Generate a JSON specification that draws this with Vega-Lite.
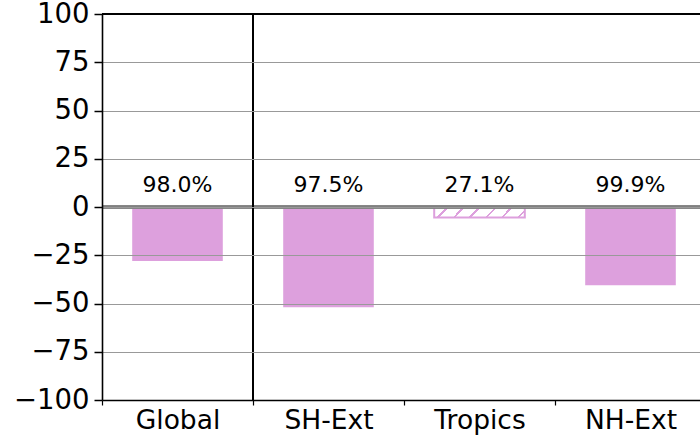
{
  "$schema": "https://vega.github.io/schema/vega-lite/v6.json",
  "width": 598,
  "height": 386,
  "autosize": {"type": "none"},
  "padding": {"left": 102, "top": 14, "right": 0, "bottom": 35},
  "title": {"text": "Change in precipitation (pr) by region (% per K, yearly)", "fontSize": 26, "font": "DejaVu Sans", "fontWeight": "normal", "color": "black", "offset": 9, "anchor": "middle", "dx": 3},
  "config": {"view": {"stroke": null}, "font": "DejaVu Sans"},
  "data": {"values": [
    {"region": "Global", "change": -28, "agreement": 0.980},
    {"region": "SH-Ext", "change": -52, "agreement": 0.975},
    {"region": "Tropics", "change": -5.4, "agreement": 0.271},
    {"region": "NH-Ext", "change": -40.5, "agreement": 0.999}
  ]},
  "encoding": {
    "x": {"field": "region", "type": "nominal", "sort": ["Global", "SH-Ext", "Tropics", "NH-Ext"],
      "scale": {"range": [0, 604], "paddingInner": 0, "paddingOuter": 0},
      "axis": {"title": null, "labelAngle": 0, "labelFontSize": 26.5, "labelColor": "black", "tickBand": "extent", "tickSize": 5, "tickColor": "black", "tickWidth": 1.2, "domainColor": "black", "domainWidth": 1.6, "labelPadding": 2, "grid": false}}
  },
  "layer": [
    {
      "transform": [{"filter": "datum.agreement >= 0.5"}],
      "mark": {"type": "bar", "color": "#dda0dd", "width": {"band": 0.6}},
      "encoding": {
        "y": {"field": "change", "type": "quantitative",
          "scale": {"domain": [-100, 100], "nice": false},
          "axis": {"title": null, "values": [-100, -75, -50, -25, 0, 25, 50, 75, 100], "labelFontSize": 27.5, "labelColor": "black", "tickSize": 8, "tickColor": "black", "tickWidth": 1.5, "labelPadding": 5, "domainColor": "black", "domainWidth": 1.6, "grid": true, "gridColor": "#999999", "gridWidth": 1, "gridOpacity": {"condition": {"test": "abs(datum.value) == 100", "value": 0}, "value": 1}, "zindex": 1}}
      }
    },
    {
      "transform": [{"filter": "datum.agreement < 0.5"}],
      "mark": {"type": "bar", "width": {"band": 0.6}, "stroke": "#dda0dd", "strokeWidth": 2,
        "fill": {"gradient": "linear", "x1": 0, "y1": 0, "x2": 1.2, "y2": 0.137, "stops": [
          {"offset": 0, "color": "white"},
          {"offset": 0.115, "color": "white"}, {"offset": 0.115, "color": "#dda0dd"}, {"offset": 0.139, "color": "#dda0dd"}, {"offset": 0.139, "color": "white"},
          {"offset": 0.261, "color": "white"}, {"offset": 0.261, "color": "#dda0dd"}, {"offset": 0.285, "color": "#dda0dd"}, {"offset": 0.285, "color": "white"},
          {"offset": 0.406, "color": "white"}, {"offset": 0.406, "color": "#dda0dd"}, {"offset": 0.430, "color": "#dda0dd"}, {"offset": 0.430, "color": "white"},
          {"offset": 0.552, "color": "white"}, {"offset": 0.552, "color": "#dda0dd"}, {"offset": 0.576, "color": "#dda0dd"}, {"offset": 0.576, "color": "white"},
          {"offset": 0.697, "color": "white"}, {"offset": 0.697, "color": "#dda0dd"}, {"offset": 0.721, "color": "#dda0dd"}, {"offset": 0.721, "color": "white"},
          {"offset": 0.843, "color": "white"}, {"offset": 0.843, "color": "#dda0dd"}, {"offset": 0.867, "color": "#dda0dd"}, {"offset": 0.867, "color": "white"},
          {"offset": 1, "color": "white"}
        ]}},
      "encoding": {
        "y": {"field": "change", "type": "quantitative"}
      }
    },
    {
      "mark": {"type": "rule", "color": "#808080", "strokeWidth": 3},
      "encoding": {"y": {"datum": 0}, "x": null}
    },
    {
      "mark": {"type": "rule", "color": "black", "strokeWidth": 1.6},
      "encoding": {"y": {"datum": 100}, "x": null}
    },
    {
      "mark": {"type": "rule", "color": "black", "strokeWidth": 2},
      "encoding": {"x": {"datum": "SH-Ext", "bandPosition": 0}}
    },
    {
      "mark": {"type": "text", "fontSize": 22, "color": "black", "baseline": "middle"},
      "encoding": {
        "y": {"datum": 11.5},
        "text": {"field": "agreement", "type": "quantitative", "format": ".1%"}
      }
    }
  ]
}
